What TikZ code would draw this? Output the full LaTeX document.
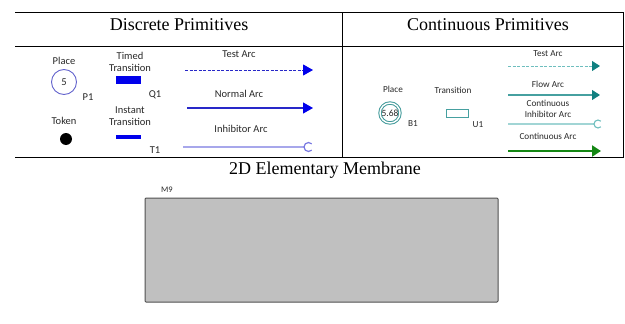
\documentclass[tikz,border=0pt]{standalone}
\usepackage{fontspec}
\setmainfont{Liberation Serif}
\setsansfont{Carlito}
\usetikzlibrary{arrows.meta, positioning}
\definecolor{dblue}{RGB}{0,0,235}
\definecolor{dline}{RGB}{40,40,200}
\definecolor{dlight}{RGB}{120,120,225}
\definecolor{dplacecol}{RGB}{100,100,205}
\definecolor{cteal}{RGB}{16,128,128}
\definecolor{cline}{RGB}{70,160,160}
\definecolor{clight}{RGB}{110,190,190}
\definecolor{cgreen}{RGB}{20,135,20}
\definecolor{membfill}{RGB}{192,192,192}
\definecolor{membdraw}{RGB}{80,80,80}
\definecolor{txt}{RGB}{40,40,40}

\begin{document}
\begin{tikzpicture}[x=1pt, y=-1pt,
  lbl/.style={font=\sffamily\fontsize{10.5}{12}\selectfont, text=txt, align=center, inner sep=0pt},
  clbl/.style={font=\sffamily\fontsize{9.2}{10.5}\selectfont, text=txt, align=center, inner sep=0pt},
  hdr/.style={font=\fontsize{18}{20}\selectfont, inner sep=0pt},
  frame/.style={line width=0.9pt},
  dtrans/.style={rectangle, fill=dblue, minimum width=25pt, inner sep=0pt},
  ctrans/.style={rectangle, draw=cline, line width=1pt, minimum width=22pt, minimum height=8pt, inner sep=0pt},
  dtip/.style={-{Triangle[length=10pt,width=11pt,color=dblue]}},
  ctip/.style={-{Triangle[length=8pt,width=10pt,color=cteal]}},
]
  \useasboundingbox (0,0) rectangle (625,324);
  % table frame
  \draw[line width=1.6pt] (15,12.5) -- (624,12.5);
  \draw[frame] (15,46) -- (624,46);
  \draw[frame] (15,157.5) -- (624,157.5);
  \draw[frame] (342,12.5) -- (342,157.5);
  \draw[frame] (623.5,12.5) -- (623.5,157.5);
  % headers
  \node[hdr] (dhdr) at (179,25) {Discrete Primitives};
  \node[hdr] (chdr) at (488,25) {Continuous Primitives};
  \node[hdr] (mhdr) at (325,170) {2D Elementary Membrane};

  % discrete place and token
  \node[lbl] (p1lbl) at (64,61) {Place};
  \node[circle, draw=dplacecol, line width=0.9pt, minimum size=25pt, inner sep=0pt,
        font=\sffamily\fontsize{10.5}{11}\selectfont, text=txt] (p1) at (64,82) {5};
  \node[lbl] (p1name) at (88,97) {P1};
  \node[lbl] (toklbl) at (64,121) {Token};
  \node[circle, fill=black, minimum size=12pt, inner sep=0pt] (tok) at (66,139) {};
  % discrete transitions
  \node[lbl] (q1lbl) at (130,62) {Timed\\Transition};
  \node[dtrans, minimum height=8pt] (q1) at (128.5,79.5) {};
  \node[lbl] (q1name) at (155,95) {Q1};
  \node[lbl] (t1lbl) at (130,116) {Instant\\Transition};
  \node[dtrans, minimum height=4.5pt] (t1) at (128.5,137) {};
  \node[lbl] (t1name) at (155,150) {T1};
  % discrete arcs
  \node[lbl] (talbl) at (239,54) {Test Arc};
  \coordinate (ta1) at (185,70);
  \coordinate (ta2) at (313,70);
  \draw[dline, line width=1pt, dash pattern=on 3pt off 1.5pt, dtip] (ta1) -- (ta2);
  \node[lbl] (nalbl) at (239,94) {Normal Arc};
  \coordinate (na1) at (187,108);
  \coordinate (na2) at (313,108);
  \draw[dline, line width=1.2pt, dtip] (na1) -- (na2);
  \node[lbl] (ialbl) at (241,129) {Inhibitor Arc};
  \coordinate (ia1) at (183,147);
  \coordinate (ia2) at (304,147);
  \draw[dlight, line width=1.2pt] (ia1) -- (ia2)
    arc[start angle=180, end angle=45, radius=4.5]
    (ia2) arc[start angle=180, end angle=315, radius=4.5];

  % continuous place and transition
  \node[clbl] (b1lbl) at (393,89) {Place};
  \node[circle, draw=cteal!80, double=white, double distance=1.4pt, line width=1pt,
        minimum size=20pt, inner sep=0pt,
        font=\sffamily\fontsize{9.5}{10}\selectfont, text=txt] (b1) at (390,113) {5.68};
  \node[clbl] (b1name) at (413,124) {B1};
  \node[clbl] (u1lbl) at (453,90) {Transition};
  \node[ctrans] (u1) at (457,113) {};
  \node[clbl] (u1name) at (478,125) {U1};
  % continuous arcs
  \node[clbl] (ctalbl) at (548,54) {Test Arc};
  \coordinate (ct1) at (508,66);
  \coordinate (ct2) at (600,66);
  \draw[clight, line width=1pt, dash pattern=on 3pt off 1.5pt, ctip] (ct1) -- (ct2);
  \node[clbl] (falbl) at (548,84) {Flow Arc};
  \coordinate (fa1) at (508,95);
  \coordinate (fa2) at (600,95);
  \draw[cline, line width=1.1pt, ctip] (fa1) -- (fa2);
  \node[clbl] (cilbl) at (548,109) {Continuous\\Inhibitor Arc};
  \coordinate (ci1) at (508,124);
  \coordinate (ci2) at (594,124);
  \draw[clight, line width=1.1pt] (ci1) -- (ci2)
    arc[start angle=180, end angle=45, radius=4]
    (ci2) arc[start angle=180, end angle=315, radius=4];
  \node[clbl] (calbl) at (548,136) {Continuous Arc};
  \coordinate (ca1) at (508,151);
  \coordinate (ca2) at (601,151);
  \draw[cgreen, line width=2.2pt, -{Triangle[length=9pt,width=11pt]}] (ca1) -- (ca2);

  % membrane
  \node[rectangle, fill=membfill, draw=membdraw, line width=1pt, rounded corners=1pt,
        minimum width=353pt, minimum height=104pt, inner sep=0pt] (m9) at (321.5,250) {};
  \node[font=\sffamily\fontsize{8.5}{8.5}\selectfont, text=txt, inner sep=0pt] (m9lbl) at (167,190) {M9};
\end{tikzpicture}
\end{document}
